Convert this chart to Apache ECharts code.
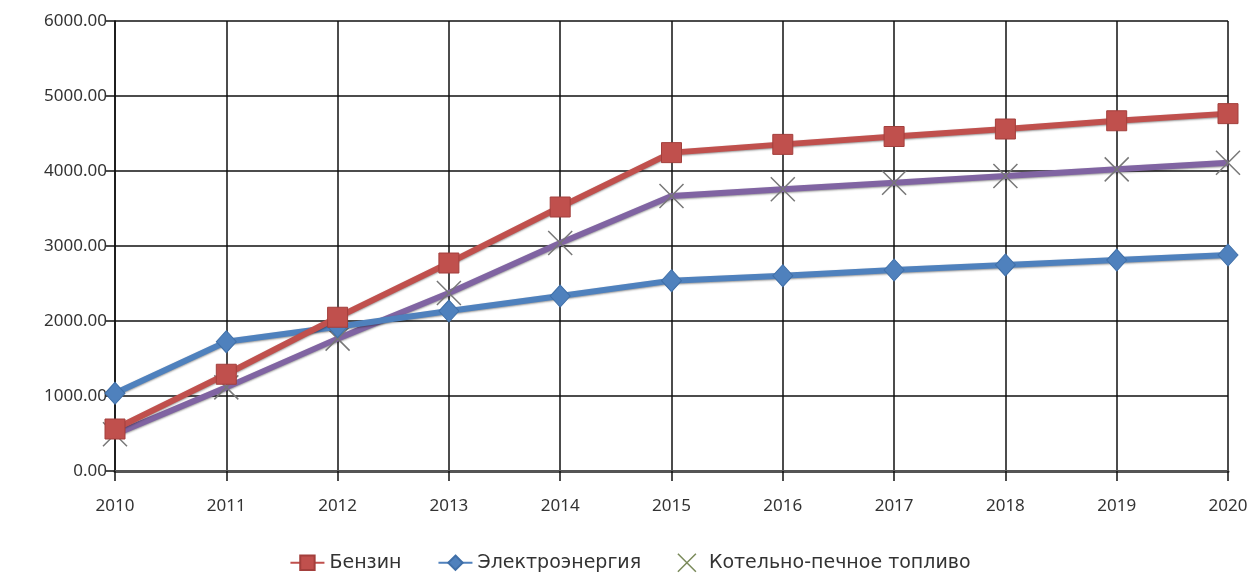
<!DOCTYPE html>
<html><head><meta charset="utf-8">
<script src="https://cdn.jsdelivr.net/npm/echarts@6/dist/echarts.min.js"></script>
<style>html,body{margin:0;padding:0;background:#fff}#c{width:1260px;height:573px}</style>
</head><body><div id="c"></div>
<script>
var years = ['2010','2011','2012','2013','2014','2015','2016','2017','2018','2019','2020'];
var benzin = [560, 1290, 2050, 2773, 3520, 4245, 4355, 4460, 4560, 4670, 4765];
var elektro = [1036, 1724, 1924, 2133, 2333, 2538, 2604, 2680, 2747, 2813, 2880];
var kotel = [490, 1115, 1765, 2373, 3040, 3667, 3756, 3844, 3933, 4022, 4111];
var names = ['Бензин', 'Электроэнергия', 'Котельно-печное топливо'];

var chart = echarts.init(document.getElementById('c'));
var font = 'Noto Sans';
var xPath = 'path://M0,0L10,10M10,0L0,10';
chart.setOption({
  animation: false,
  grid: {left: 115, right: 32, top: 21, bottom: 102},
  legend: {
    top: 548, left: 'center', itemGap: 36, itemWidth: 34, itemHeight: 18,
    textStyle: {fontFamily: 'DejaVu Sans', fontSize: 19, color: '#333'},
    data: [
      {name: names[0]},
      {name: names[1]},
      {name: names[2], icon: xPath, itemStyle: {color: 'transparent', borderColor: '#7a8a5a', borderWidth: 1.5}}
    ]
  },
  xAxis: {
    type: 'category', data: years, boundaryGap: false,
    axisLine: {lineStyle: {color: '#555', width: 3}},
    axisTick: {show: true, length: 10, lineStyle: {color: '#111', width: 1.5}},
    axisLabel: {fontFamily: font, fontSize: 17, color: '#333', margin: 27},
    splitLine: {show: true, lineStyle: {color: '#111', width: 1.5}}
  },
  yAxis: {
    type: 'value', min: 0, max: 6000, interval: 1000,
    axisLine: {show: true, lineStyle: {color: '#111', width: 1.5}},
    axisTick: {show: true, length: 10, lineStyle: {color: '#111', width: 1.5}},
    axisLabel: {fontFamily: font, fontSize: 17, color: '#333', margin: 8, formatter: function(v){return v.toFixed(2);}},
    splitLine: {show: true, lineStyle: {color: '#111', width: 1.5}}
  },
  series: [
    {name: names[0], type: 'line', data: benzin, symbol: 'rect', symbolSize: 20,
     lineStyle: {color: '#C0504D', width: 6, shadowColor: 'rgba(0,0,0,0.4)', shadowBlur: 2, shadowOffsetY: 1},
     itemStyle: {color: '#C0504D', borderColor: '#A33F3C', borderWidth: 1}, z: 4},
    {name: names[1], type: 'line', data: elektro, symbol: 'diamond', symbolSize: [20, 22],
     lineStyle: {color: '#4F81BD', width: 6, shadowColor: 'rgba(0,0,0,0.4)', shadowBlur: 2, shadowOffsetY: 1},
     itemStyle: {color: '#4F81BD', borderColor: '#3F6FA8', borderWidth: 1}, z: 3},
    {name: names[2], type: 'line', data: kotel, symbol: xPath, symbolSize: 24,
     lineStyle: {color: '#8064A2', width: 6, shadowColor: 'rgba(0,0,0,0.4)', shadowBlur: 2, shadowOffsetY: 1},
     itemStyle: {color: 'transparent', borderColor: '#777', borderWidth: 1.5}, z: 2}
  ]
});
</script></body></html>
